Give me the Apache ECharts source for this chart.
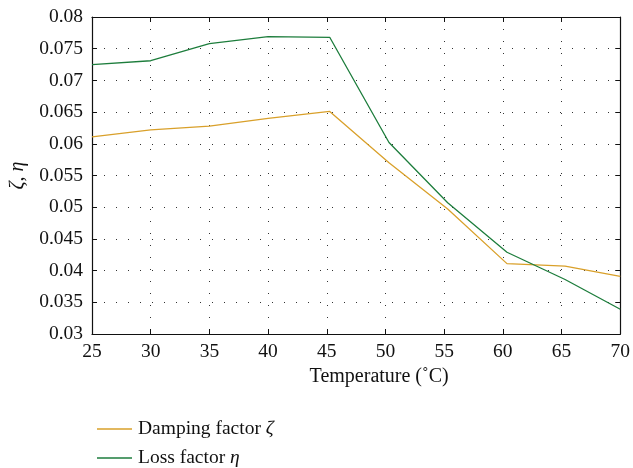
<!DOCTYPE html>
<html><head><meta charset="utf-8">
<script src="https://cdn.jsdelivr.net/npm/echarts@6/dist/echarts.min.js"></script>
<style>html,body{margin:0;padding:0;background:#fff}#c{width:633px;height:468px}</style>
</head><body><div id="c"></div>
<script>
const temperature = [25, 30, 35, 40, 45.25, 50.3, 55.3, 60.35, 65.3, 70];
const dampingFactor = [0.0611, 0.0622, 0.0628, 0.0640, 0.0651, 0.0570, 0.0497, 0.0411, 0.0407, 0.0391];
const lossFactor = [0.0725, 0.0731, 0.0758, 0.0769, 0.0768, 0.0602, 0.0507, 0.0429, 0.0386, 0.0339];
const xTicks = [25, 30, 35, 40, 45, 50, 55, 60, 65, 70];
const yTicks = [0.03, 0.035, 0.04, 0.045, 0.05, 0.055, 0.06, 0.065, 0.07, 0.075, 0.08];
const seriesNames = ['Damping factor \u03b6', 'Loss factor \u03b7'];
const xName = 'Temperature (\u02daC)';
const yName = '\u03b6, \u03b7';

const FONT = 'Liberation Serif';
const pair = (xs, ys) => xs.map((x, i) => [x, ys[i]]);
const fmtY = v => String(+v.toFixed(3));
const grid = {left: 92, right: 11, top: 17, bottom: 134};
const gridSplit = {show: true, lineStyle: {color: '#333', type: [1, 11], width: 1}};
const frameLine = {show: true, lineStyle: {color: '#111', width: 1.2}};
const tick = {show: true, inside: true, length: 5, lineStyle: {color: '#111'}};
const legendFmt = name => {
  const i = name.lastIndexOf(' ');
  return name.slice(0, i + 1) + '{g|' + name.slice(i + 1) + '}';
};
const legendBase = (name, top) => ({
  left: 92, top: top, icon: 'rect', itemWidth: 35, itemHeight: 1.4,
  formatter: legendFmt,
  textStyle: {fontFamily: FONT, fontSize: 19.5, color: '#111', padding: [0, 0, 0, 1],
    rich: {g: {fontFamily: FONT, fontSize: 19.5, fontStyle: 'italic', color: '#111'}}},
  data: [name]
});

const chart = echarts.init(document.getElementById('c'));
chart.setOption({
  animation: false,
  textStyle: {fontFamily: FONT},
  grid: grid,
  legend: [legendBase(seriesNames[0], 414), legendBase(seriesNames[1], 443)],
  xAxis: [{
    type: 'value', min: xTicks[0], max: xTicks[xTicks.length - 1], interval: 5,
    axisLine: frameLine, axisTick: tick,
    axisLabel: {fontFamily: FONT, fontSize: 19.5, color: '#111', margin: 8},
    splitLine: gridSplit,
    name: xName, nameLocation: 'middle', nameGap: 29,
    nameTextStyle: {fontFamily: FONT, fontSize: 20, color: '#111', padding: [0, 0, 0, 46]}
  }, {
    type: 'value', position: 'top', min: xTicks[0], max: xTicks[xTicks.length - 1], interval: 5,
    axisLine: frameLine, axisTick: tick,
    axisLabel: {show: false}, splitLine: {show: false}
  }],
  yAxis: [{
    type: 'value', min: yTicks[0], max: yTicks[yTicks.length - 1], interval: 0.005,
    axisLine: frameLine, axisTick: tick,
    axisLabel: {fontFamily: FONT, fontSize: 19.5, color: '#111', margin: 9, formatter: fmtY},
    splitLine: gridSplit,
    name: yName, nameLocation: 'middle', nameGap: 63,
    nameTextStyle: {fontFamily: FONT, fontSize: 20, fontStyle: 'italic', color: '#111'}
  }, {
    type: 'value', position: 'right', min: yTicks[0], max: yTicks[yTicks.length - 1], interval: 0.005,
    axisLine: frameLine, axisTick: tick,
    axisLabel: {show: false}, splitLine: {show: false}
  }],
  series: [{
    name: seriesNames[0], type: 'line', symbol: 'none',
    data: pair(temperature, dampingFactor),
    lineStyle: {color: '#d9a02a', width: 1.3}, itemStyle: {color: '#d9a02a'}
  }, {
    name: seriesNames[1], type: 'line', symbol: 'none',
    data: pair(temperature, lossFactor),
    lineStyle: {color: '#1d7d3c', width: 1.3}, itemStyle: {color: '#1d7d3c'}
  }]
});
</script></body></html>
